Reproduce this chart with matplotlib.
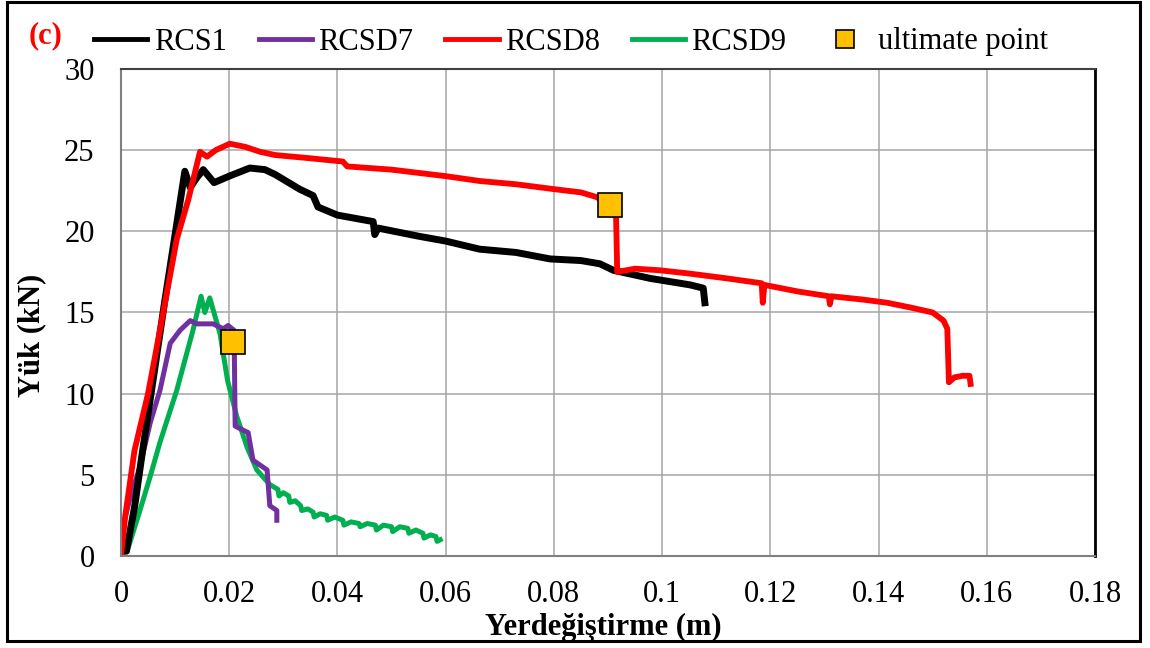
import matplotlib
matplotlib.use("Agg")
import matplotlib.pyplot as plt
from matplotlib.lines import Line2D
from matplotlib.patches import Rectangle

plt.rcParams['font.family'] = ['Liberation Serif', 'DejaVu Serif']

# RCS1 (black)
rcs1_x = [0, 0.001, 0.0025, 0.004, 0.006, 0.008, 0.010, 0.0118, 0.0128, 0.014, 0.0152, 0.0162,
          0.0172, 0.020, 0.0238, 0.0266, 0.0285, 0.0310, 0.0330, 0.0355, 0.0364, 0.0400, 0.0466,
          0.0469, 0.0475, 0.0550, 0.0600, 0.0663, 0.0730, 0.0793, 0.0850, 0.0885, 0.0910, 0.0978,
          0.1052, 0.1076, 0.1079]
rcs1_y = [0.3, 0.3, 3.0, 6.5, 11.0, 15.5, 19.8, 23.7, 22.7, 23.3, 23.8, 23.4,
          23.0, 23.4, 23.9, 23.8, 23.5, 23.0, 22.6, 22.2, 21.5, 21.0, 20.6,
          19.8, 20.2, 19.7, 19.4, 18.9, 18.7, 18.3, 18.2, 18.0, 17.6, 17.1,
          16.7, 16.5, 15.6]

# RCSD7 (purple)
rcsd7_x = [0, 0.0005, 0.0017, 0.0035, 0.0054, 0.0072, 0.0091, 0.0109, 0.0128, 0.0140, 0.0170,
           0.0189, 0.0198, 0.0209, 0.0211, 0.0235, 0.0244, 0.0270, 0.0275, 0.0288, 0.0288]
rcsd7_y = [0.3, 2.0, 3.6, 5.5, 8.2, 10.2, 13.1, 13.9, 14.5, 14.3, 14.3,
           14.0, 14.2, 13.9, 8.0, 7.6, 5.9, 5.3, 3.1, 2.8, 2.2]

# RCSD8 (red)
rcsd8_x = [0, 0.0008, 0.0025, 0.0050, 0.0072, 0.0103, 0.0124, 0.0146, 0.0159, 0.0175, 0.0201,
           0.0230, 0.0257, 0.0285, 0.0350, 0.0410, 0.0418, 0.0500, 0.0600, 0.0663, 0.0730, 0.0800,
           0.0850, 0.0880, 0.0910, 0.0915, 0.0917, 0.0950, 0.0996, 0.1050, 0.1120, 0.1184, 0.1186,
           0.1189, 0.1250, 0.1308, 0.1310, 0.1313, 0.1370, 0.1416, 0.1460, 0.1500, 0.1520, 0.1527,
           0.1530, 0.1540, 0.1555, 0.1568, 0.1570]
rcsd8_y = [0, 2.5, 6.5, 10.0, 13.9, 19.5, 21.9, 24.9, 24.6, 25.0, 25.4,
           25.2, 24.9, 24.7, 24.5, 24.3, 24.0, 23.8, 23.4, 23.1, 22.9, 22.6,
           22.4, 22.1, 21.3, 20.8, 17.5, 17.7, 17.6, 17.4, 17.1, 16.8, 15.6,
           16.7, 16.3, 16.0, 15.5, 16.0, 15.8, 15.6, 15.3, 15.0, 14.5, 14.0,
           10.7, 11.0, 11.1, 11.1, 10.6]

# RCSD9 (green)
rcsd9_x = [0, 0.0011, 0.0035, 0.0054, 0.0072, 0.0103, 0.0133, 0.0148, 0.0155, 0.0164, 0.0183,
           0.0197, 0.0214, 0.0233, 0.0251, 0.0275, 0.0290, 0.0292, 0.0300, 0.0310, 0.0312, 0.0322,
           0.0332, 0.0334, 0.0345, 0.0355, 0.0357, 0.0368, 0.0380, 0.0382, 0.0395, 0.0410, 0.0412,
           0.0425, 0.0440, 0.0442, 0.0455, 0.0470, 0.0472, 0.0485, 0.0500, 0.0502, 0.0515, 0.0530,
           0.0532, 0.0545, 0.0558, 0.0560, 0.0572, 0.0582, 0.0584, 0.0590]
rcsd9_y = [0.25, 0.25, 2.8, 4.9, 7.0, 10.2, 13.9, 16.0, 15.0, 15.9, 13.7,
           10.8, 8.6, 6.7, 5.3, 4.4, 4.1, 3.7, 3.9, 3.7, 3.3, 3.4,
           3.1, 2.8, 2.9, 2.7, 2.4, 2.6, 2.5, 2.2, 2.4, 2.2, 1.9,
           2.1, 2.0, 1.8, 2.0, 1.9, 1.6, 1.9, 1.8, 1.5, 1.8, 1.7,
           1.4, 1.6, 1.4, 1.1, 1.3, 1.2, 0.9, 1.0]

# ultimate points
ult_x = [0.0207, 0.0904]
ult_y = [13.2, 21.6]

xticks = [0, 0.02, 0.04, 0.06, 0.08, 0.1, 0.12, 0.14, 0.16, 0.18]
xticklabels = ['0', '0.02', '0.04', '0.06', '0.08', '0.1', '0.12', '0.14', '0.16', '0.18']
yticks = [0, 5, 10, 15, 20, 25, 30]

fig = plt.figure(figsize=(11.5, 6.48), dpi=100)
ax = fig.add_axes([0.1052, 0.1420, 0.8470, 0.7515])

ax.plot(rcsd9_x, rcsd9_y, color='#00B050', lw=3.6, solid_joinstyle='round')
ax.plot(rcsd7_x, rcsd7_y, color='#7030A0', lw=3.6, solid_joinstyle='round')
ax.plot(rcs1_x, rcs1_y, color='black', lw=5, solid_joinstyle='round')
ax.plot(rcsd8_x, rcsd8_y, color='#FF0000', lw=4.2, solid_joinstyle='round')
ax.plot(ult_x, ult_y, 's', ms=17, mfc='#FFC000', mec='black', mew=1.2, zorder=5)

ax.set_xlim(0, 0.18)
ax.set_ylim(0, 30)
ax.set_xticks(xticks)
ax.set_xticklabels(xticklabels)
ax.set_yticks(yticks)
ax.tick_params(length=0, labelsize=22)
ax.tick_params(axis='y', pad=19)
ax.tick_params(axis='x', pad=17)
ax.grid(True, color='#A6A6A6', lw=1.1)
ax.set_axisbelow(True)
for s in ['left', 'bottom']:
    ax.spines[s].set_color('#808080')
    ax.spines[s].set_linewidth(1.5)
ax.spines['top'].set_color('#404040')
ax.spines['top'].set_linewidth(1.5)
ax.spines['right'].set_color('black')
ax.spines['right'].set_linewidth(2)

ax.set_xlabel('Yerdeğiştirme (m)', fontsize=22, fontweight='bold')
ax.xaxis.set_label_coords(0.495, -0.117)
ax.set_ylabel('Yük (kN)', fontsize=22, fontweight='bold')
ax.yaxis.set_label_coords(-0.077, 0.454)

handles = [Line2D([], [], color='black', lw=3.5),
           Line2D([], [], color='#7030A0', lw=3.5),
           Line2D([], [], color='#FF0000', lw=3.5),
           Line2D([], [], color='#00B050', lw=3.5),
           Line2D([], [], ls='none', marker='s', ms=13, mfc='#FFC000', mec='black', mew=1.2)]
labels = ['RCS1', 'RCSD7', 'RCSD8', 'RCSD9', 'ultimate point']
fig.legend(handles, labels, loc='center left', bbox_to_anchor=(94 / 1150, 1 - 42 / 648),
           ncol=5, frameon=False, fontsize=22, handlelength=1.75, handletextpad=0.2,
           columnspacing=1.05, borderpad=0, borderaxespad=0)

fig.text(29 / 1150, 1 - 36 / 648, '(c)', color='red', fontsize=22, fontweight='bold', va='center')

fig.patches.append(Rectangle((7 / 1150, 1 - 641 / 648), 1133 / 1150, 639 / 648,
                             transform=fig.transFigure, fill=False, ec='black', lw=2.2))

plt.savefig('out.png', dpi=100)
